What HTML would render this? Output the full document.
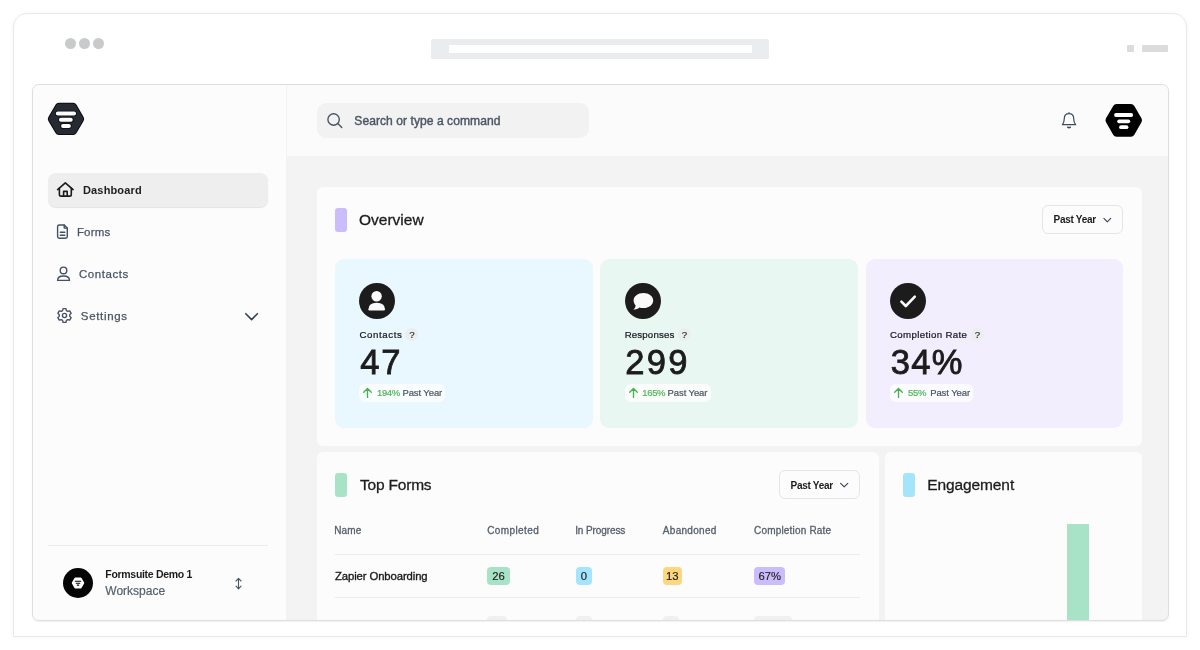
<!DOCTYPE html>
<html lang="en">
<head>
<meta charset="utf-8">
<title>Formsuite Dashboard</title>
<style>
*{box-sizing:border-box;margin:0;padding:0}
html,body{width:1200px;height:650px;overflow:hidden;background:#fff}
body{font-family:"Liberation Sans",sans-serif;color:#1f1f1f;position:relative}
.abs{position:absolute}
.t{position:absolute;white-space:nowrap;line-height:1}
/* browser chrome */
#outer{left:13px;top:13px;width:1174px;height:624px;border:1px solid #e9e9e9;border-radius:14px 14px 1px 1px;background:#fff;box-shadow:0 0 4px rgba(0,0,0,.04)}
.dot{width:11px;height:11px;border-radius:50%;background:#c9cacc;top:37.6px}
#url{left:431px;top:39px;width:338.3px;height:19.6px;background:#ebecee;border-radius:2px}
#urlin{left:449.4px;top:45.4px;width:302.8px;height:7.2px;background:#fff}
#inner{left:31.8px;top:84px;width:1137.5px;height:537px;border:1px solid #dedede;border-radius:7px;background:#f3f3f3;overflow:hidden;box-shadow:0 1px 2px rgba(0,0,0,.06)}
#inner>div{position:absolute}
/* coordinates inside #inner are page coords minus (32,85) */
#side{left:0;top:0;width:254.2px;height:535px;background:#fcfcfc;border-right:1px solid #f3f3f3}
#top{left:254.2px;top:0;width:883px;height:70.8px;background:#fbfbfb}
.card{background:#fcfcfc;border-radius:6px}

.h2{font-size:15.5px;color:#1c1c1c;-webkit-text-stroke:.3px #1c1c1c}
.dd{width:81.7px;height:29.1px;border:1px solid #e5e5e5;border-radius:6px;background:#fcfcfc}
.ddt{font-size:10px;font-weight:700;color:#1c1c1c;letter-spacing:-.3px}
.lbl{font-size:9.7px;color:#1a1a22;letter-spacing:.6px;-webkit-text-stroke:.22px #1a1a22}
.q{width:13px;height:13px;border-radius:50%;background:#ebeeef}
.qm{width:13px;text-align:center;font-size:9.6px;color:#2a2a2a;-webkit-text-stroke:.2px #2a2a2a}
.num{font-size:34.5px;color:#1c1c1c;-webkit-text-stroke:.85px #1c1c1c;letter-spacing:0}
.bdg{height:18.2px;border-radius:6px;background:rgba(255,255,255,.78)}
.pct{font-size:9.5px;color:#4b5563;letter-spacing:-.1px;-webkit-text-stroke:.2px #4b5563}
.pct.g{color:#52b659;-webkit-text-stroke:.22px #52b659;letter-spacing:-.35px}

.th{font-size:10px;color:#555e6b;letter-spacing:.4px;-webkit-text-stroke:.3px #555e6b}
.td{font-size:11.3px;-webkit-text-stroke:.35px #1c1c1c;color:#1c1c1c}
.pill{top:567px;height:17.7px;line-height:19.2px;border-radius:4px;text-align:center;font-size:11.3px;color:#1c1c1c;-webkit-text-stroke:.15px #1c1c1c;overflow:hidden}
.ghost{top:616px;height:17.6px;border-radius:4px;background:#f0f0f0}
</style>
</head>
<body>
<div id="outer" class="abs"></div>
<div class="abs dot" style="left:64.5px"></div>
<div class="abs dot" style="left:78.8px"></div>
<div class="abs dot" style="left:93.1px"></div>
<div id="url" class="abs"></div>
<div id="urlin" class="abs"></div>
<div class="abs" style="left:1127px;top:44.6px;width:7.2px;height:7px;background:#dcdcdc;border-radius:1px"></div>
<div class="abs" style="left:1142px;top:44.6px;width:26.2px;height:7px;background:#dcdcdc;border-radius:1px"></div>

<div id="inner" class="abs">
  <div id="side"></div>
  <div id="top"></div>
</div>

<!-- page-coordinate layer -->
<div id="layer" class="abs" style="left:0;top:0;width:1200px;height:620px;overflow:hidden">
<!--SIDEBAR-->
<!-- logo -->
<svg class="abs" style="left:46px;top:100px" width="40" height="38" viewBox="46 100 40 38">
  <polygon points="51.8,118.9 58.9,106.75 73.1,106.75 80.15,118.9 73.1,131 58.9,131" fill="#0b0c0f" stroke="#0b0c0f" stroke-width="8" stroke-linejoin="round"/>
  <polygon points="51.8,118.9 58.9,106.75 73.1,106.75 80.15,118.9 73.1,131 58.9,131" fill="#272a33" stroke="#272a33" stroke-width="6" stroke-linejoin="round"/>
  <g stroke="#0b0c0f" stroke-width="5.6" stroke-linecap="round"><line x1="57.8" y1="113.55" x2="74.1" y2="113.55"/><line x1="60.9" y1="119.7" x2="70.8" y2="119.7"/><line x1="63" y1="125.95" x2="68.9" y2="125.95"/></g>
  <g stroke="#fff" stroke-width="3.9" stroke-linecap="round"><line x1="57.8" y1="113.55" x2="74.1" y2="113.55"/><line x1="60.9" y1="119.7" x2="70.8" y2="119.7"/><line x1="63" y1="125.95" x2="68.9" y2="125.95"/></g>
</svg>
<!-- nav -->
<div class="abs" style="left:48px;top:173px;width:220px;height:34px;border-radius:8px;background:#eeeeee;box-shadow:0 1px 1px rgba(0,0,0,.10)"></div>
<svg class="abs" style="left:55px;top:180px" width="20" height="19" viewBox="55 180 20 19" fill="none" stroke="#1a1a1a" stroke-width="1.6" stroke-linecap="round" stroke-linejoin="round">
  <path d="M57.6 189.6 L65.35 182.9 L73.1 189.6"/>
  <path d="M59.4 188.4 V194.4 Q59.4 196.1 61.1 196.1 H69.6 Q71.3 196.1 71.3 194.4 V188.4"/>
  <path d="M63.6 196 V191.4 H67.2 V196"/>
</svg>
<span class="t" id="n1" style="left:83px;top:184.8px;font-size:11px;font-weight:700;color:#1c1c1c;letter-spacing:.15px">Dashboard</span>

<svg class="abs" style="left:55px;top:222px" width="16" height="19" viewBox="55 222 16 19" fill="none" stroke="#445063" stroke-width="1.4" stroke-linecap="round" stroke-linejoin="round">
  <path d="M64.2 225 H59.3 Q57.6 225 57.6 226.7 V236.6 Q57.6 238.3 59.3 238.3 H65.6 Q67.3 238.3 67.3 236.6 V228.1 Z"/>
  <path d="M64.2 225 V228.1 H67.3"/>
  <path d="M60.3 232.2 H64.8 M60.3 235.2 H64.8"/>
</svg>
<span class="t" id="n2" style="-webkit-text-stroke:.25px #4a5565;left:76.9px;top:226.5px;font-size:11.5px;color:#4a5565;letter-spacing:.2px">Forms</span>

<svg class="abs" style="left:55px;top:264px" width="18" height="19" viewBox="55 264 18 19" fill="none" stroke="#445063" stroke-width="1.4" stroke-linecap="round" stroke-linejoin="round">
  <circle cx="63.5" cy="270.4" r="3.3"/>
  <path d="M57.6 280.4 Q57.6 276 63.5 276 Q69.5 276 69.5 280.4 Z"/>
</svg>
<span class="t" id="n3" style="-webkit-text-stroke:.25px #4a5565;left:79px;top:268.8px;font-size:11.5px;color:#4a5565;letter-spacing:.55px">Contacts</span>

<svg class="abs" style="left:55px;top:306px" width="19" height="19" viewBox="-9.5 -9.5 19 19" fill="none" stroke="#445063" stroke-width="1.35" stroke-linejoin="round">
  <circle cx="0" cy="0" r="2.1"/>
  <path d="M-1.46 -6.85 L1.46 -6.85 L1.90 -4.95 L3.34 -4.12 L5.20 -4.68 L6.66 -2.16 L5.23 -0.83 L5.23 0.83 L6.66 2.16 L5.20 4.68 L3.34 4.12 L1.90 4.95 L1.46 6.85 L-1.46 6.85 L-1.90 4.95 L-3.34 4.12 L-5.20 4.68 L-6.66 2.16 L-5.23 0.83 L-5.23 -0.83 L-6.66 -2.16 L-5.20 -4.68 L-3.34 -4.12 L-1.90 -4.95 Z"/>
</svg>
<span class="t" id="n4" style="-webkit-text-stroke:.25px #4a5565;left:80.8px;top:310.8px;font-size:11.5px;color:#4a5565;letter-spacing:.68px">Settings</span>
<svg class="abs" style="left:243px;top:310px" width="17" height="13" viewBox="243 310 17 13" fill="none" stroke="#374151" stroke-width="1.6" stroke-linecap="round" stroke-linejoin="round"><path d="M245.8 313.7 L251.6 319.6 L257.4 313.7"/></svg>

<!-- workspace footer -->
<div class="abs" style="left:48px;top:545px;width:220px;height:1px;background:#ececec"></div>
<div class="abs" style="left:63px;top:568px;width:30px;height:30px;border-radius:50%;background:#050505"></div>
<svg class="abs" style="left:70px;top:575px" width="16" height="16" viewBox="70 575 16 16">
  <polygon points="72.6,583 75.2,578.3 80.8,578.3 83.4,583 80.8,587.7 75.2,587.7" fill="#fff" stroke="#fff" stroke-width="1.6" stroke-linejoin="round"/>
  <g stroke="#050505" stroke-width="1.1" stroke-linecap="round"><line x1="75.3" y1="581.2" x2="80.7" y2="581.2"/><line x1="76.3" y1="583.2" x2="79.7" y2="583.2"/><line x1="77.3" y1="585.1" x2="78.7" y2="585.1"/></g>
</svg>
<span class="t" id="w1" style="left:105.3px;top:568.9px;font-size:10.5px;font-weight:700;color:#1c1c1c;letter-spacing:-.3px">Formsuite Demo 1</span>
<span class="t" id="w2" style="-webkit-text-stroke:.2px #566070;left:105.3px;top:585.1px;font-size:12px;color:#566070">Workspace</span>
<svg class="abs" style="left:232px;top:575px" width="13" height="17" viewBox="232 575 13 17" fill="none" stroke="#4b5563" stroke-width="1.1" stroke-linecap="round" stroke-linejoin="round"><path d="M238.5 578.6 V588.6 M236 581 L238.5 578.4 L241 581 M236 586.2 L238.5 588.8 L241 586.2"/></svg>

<!--TOPBAR-->
<div class="abs" style="left:317px;top:102.5px;width:272px;height:35.5px;border-radius:9px;background:#f2f2f2"></div>
<svg class="abs" style="left:325px;top:111px" width="20" height="19" viewBox="325 111 20 19" fill="none" stroke="#4b5563" stroke-width="1.4" stroke-linecap="round"><circle cx="333.6" cy="119.5" r="5.7"/><path d="M337.8 123.6 L341.8 127.6"/></svg>
<span class="t" id="s1" style="left:354.3px;top:115px;font-size:12.1px;color:#4b5563;-webkit-text-stroke:.4px #4b5563;letter-spacing:.04px">Search or type a command</span>
<svg class="abs" style="left:1060px;top:110px" width="18" height="20" viewBox="1060 110 18 20" fill="none" stroke="#3d4a5c" stroke-width="1.2" stroke-linecap="round" stroke-linejoin="round">
  <path d="M1069 112.5 V113.6 M1064.3 118.6 Q1064.3 113.7 1069 113.7 Q1073.7 113.7 1073.7 118.6 Q1073.7 122.4 1075.6 124.7 H1062.4 Q1064.3 122.4 1064.3 118.6 Z"/>
  <path d="M1067.7 127.2 Q1069 128.2 1070.3 127.2" stroke-width="1.5"/>
</svg>
<svg class="abs" style="left:1103px;top:101px" width="42" height="39" viewBox="1103 101 42 39">
  <polygon points="1109.5,120.3 1116.65,107.9 1130.85,107.9 1138,120.3 1130.85,132.7 1116.65,132.7" fill="#000" stroke="#000" stroke-width="8" stroke-linejoin="round"/>
  <g stroke="#fff" stroke-width="3.8" stroke-linecap="round"><line x1="1116" y1="115" x2="1131.2" y2="115"/><line x1="1119.1" y1="121.3" x2="1128.3" y2="121.3"/><line x1="1121" y1="127.2" x2="1126.5" y2="127.2"/></g>
</svg>

<!--OVERVIEW-->
<div class="abs card" style="left:316.6px;top:186.8px;width:825.2px;height:259.4px"></div>
<div class="abs" style="left:335px;top:208px;width:12px;height:24px;border-radius:3px;background:#cbbdfb"></div>
<span class="t h2" id="h_ov" style="left:359px;top:212.4px">Overview</span>
<div class="abs dd" style="left:1041.7px;top:205.2px"></div>
<span class="t ddt" style="left:1053.6px;top:215.4px">Past Year</span>
<svg class="abs" style="left:1101px;top:215px" width="12" height="10" viewBox="1101 215 12 10" fill="none" stroke="#374151" stroke-width="1.1" stroke-linecap="round" stroke-linejoin="round"><path d="M1103.9 218.4 L1107.3 221.8 L1110.7 218.4"/></svg>

<div class="abs" style="left:335px;top:259px;width:257.8px;height:168.8px;border-radius:9px;background:#e9f7fe"></div>
<div class="abs" style="left:359.3px;top:282.8px;width:35.8px;height:35.8px;border-radius:50%;background:#1c1c1c"></div>
<svg class="abs" style="left:359.3px;top:282.8px" width="36" height="36" viewBox="0 0 36 36" fill="#fafafa"><circle cx="17.6" cy="13.2" r="5.2"/><path d="M9.4 26.2 Q9.4 19.7 17.7 19.7 Q26 19.7 26 26.2 Q26 27.4 24.8 27.4 H10.6 Q9.4 27.4 9.4 26.2 Z"/></svg>
<span class="t lbl" style="top:330.1px;left:359.5px">Contacts</span>
<div class="abs q" style="left:405.2px;top:328.3px"></div><span class="t qm" style="left:405.3px;top:330.1px">?</span>
<span class="t num" style="left:360.3px;top:345.2px;letter-spacing:1.8px">47</span>
<div class="abs bdg" style="left:359.2px;top:383.8px;width:85.9px"></div>
<svg class="abs" style="left:361.3px;top:385.6px" width="13" height="14" viewBox="0 0 13 14" fill="none" stroke="#45b24e" stroke-width="1.35" stroke-linecap="round" stroke-linejoin="round"><path d="M6.5 11.4 V2.6 M2.7 6.2 L6.5 2.4 L10.3 6.2"/></svg>
<span class="t pct g" id="g1" style="left:377px;top:388.4px">194%</span><span class="t pct" id="y1" style="left:402.4px;top:388.4px">Past Year</span>

<div class="abs" style="left:600.3px;top:259px;width:257.8px;height:168.8px;border-radius:9px;background:#e9f7f2"></div>
<div class="abs" style="left:624.8px;top:282.8px;width:35.8px;height:35.8px;border-radius:50%;background:#1c1c1c"></div>
<svg class="abs" style="left:624.6px;top:282.8px" width="36" height="36" viewBox="0 0 36 36" fill="#fafafa"><path d="M18.4 9.9 C23.9 9.9 28.2 13.2 28.2 17.5 C28.2 21.8 23.9 25.1 18.4 25.1 C17 25.1 15.6 24.85 14.4 24.4 C13 25.7 10.8 26.5 8.3 26.5 C9.8 25.3 10.5 24 10.6 22.4 C9.3 21 8.6 19.3 8.6 17.5 C8.6 13.2 12.9 9.9 18.4 9.9 Z"/></svg>
<span class="t lbl" style="top:330.1px;left:624.7px;letter-spacing:.14px">Responses</span>
<div class="abs q" style="left:677.8px;top:328.3px"></div><span class="t qm" style="left:677.9px;top:330.1px">?</span>
<span class="t num" style="left:625.2px;top:345.2px;letter-spacing:2.4px">299</span>
<div class="abs bdg" style="left:624.5px;top:383.8px;width:86.2px"></div>
<svg class="abs" style="left:627.1px;top:385.6px" width="13" height="14" viewBox="0 0 13 14" fill="none" stroke="#45b24e" stroke-width="1.35" stroke-linecap="round" stroke-linejoin="round"><path d="M6.5 11.4 V2.6 M2.7 6.2 L6.5 2.4 L10.3 6.2"/></svg>
<span class="t pct g" id="g2" style="left:642.3px;top:388.4px">165%</span><span class="t pct" id="y2" style="left:667.6px;top:388.4px">Past Year</span>

<div class="abs" style="left:865.5px;top:259px;width:257.8px;height:168.8px;border-radius:9px;background:#f2eefe"></div>
<div class="abs" style="left:890.0px;top:282.8px;width:35.8px;height:35.8px;border-radius:50%;background:#1c1c1c"></div>
<svg class="abs" style="left:889.9px;top:282.8px" width="36" height="36" viewBox="0 0 36 36" fill="none" stroke="#fafafa" stroke-width="2.6" stroke-linecap="round" stroke-linejoin="round"><path d="M11.4 18.6 L15.8 23 L24.8 13.6"/></svg>
<span class="t lbl" style="top:330.1px;left:890.0px;letter-spacing:.34px">Completion Rate</span>
<div class="abs q" style="left:970.6px;top:328.3px"></div><span class="t qm" style="left:970.8px;top:330.1px">?</span>
<span class="t num" style="left:890.8px;top:345.2px;letter-spacing:1.3px">34%</span>
<div class="abs bdg" style="left:889.7px;top:383.8px;width:83px"></div>
<svg class="abs" style="left:892.2px;top:385.6px" width="13" height="14" viewBox="0 0 13 14" fill="none" stroke="#45b24e" stroke-width="1.35" stroke-linecap="round" stroke-linejoin="round"><path d="M6.5 11.4 V2.6 M2.7 6.2 L6.5 2.4 L10.3 6.2"/></svg>
<span class="t pct g" id="g3" style="left:908.1px;top:388.4px">55%</span><span class="t pct" id="y3" style="left:930.2px;top:388.4px">Past Year</span>

<!--TOPFORMS-->
<div class="abs card" style="left:316.8px;top:452.3px;width:561.9px;height:200px"></div>
<div class="abs" style="left:335px;top:473.2px;width:12px;height:23.8px;border-radius:3px;background:#a8e3c8"></div>
<span class="t h2" id="h_tf" style="left:360px;top:476.6px;letter-spacing:-.2px">Top Forms</span>
<div class="abs dd" style="left:778.6px;top:470.2px"></div>
<span class="t ddt" style="left:790.6px;top:480.7px">Past Year</span>
<svg class="abs" style="left:838px;top:480px" width="12" height="10" viewBox="0 0 12 10" fill="none" stroke="#374151" stroke-width="1.1" stroke-linecap="round" stroke-linejoin="round"><path d="M2.6 3.4 L6.2 6.9 L9.8 3.4"/></svg>
<span class="t th" id="th1" style="left:334.3px;top:525.9px;letter-spacing:.1px">Name</span>
<span class="t th" id="th2" style="left:487.2px;top:525.9px">Completed</span>
<span class="t th" id="th3" style="left:575.2px;top:525.9px;letter-spacing:-.1px">In Progress</span>
<span class="t th" id="th4" style="left:662.8px;top:525.9px;letter-spacing:.3px">Abandoned</span>
<span class="t th" id="th5" style="left:754px;top:525.9px;letter-spacing:.19px">Completion Rate</span>
<div class="abs" style="left:335px;top:554px;width:525.2px;height:1px;background:#ececec"></div>
<span class="t td" id="td1" style="left:335px;top:570.8px;letter-spacing:-.1px">Zapier Onboarding</span>
<span class="t pill" id="p1" style="left:487.2px;width:22.5px;background:#a8e3c8">26</span>
<span class="t pill" id="p2" style="left:575.5px;width:16.7px;background:#a5e5fb">0</span>
<span class="t pill" id="p3" style="left:662.6px;width:19.4px;background:#fcd77f">13</span>
<span class="t pill" id="p4" style="left:754px;width:31.4px;background:#cbbdfb">67%</span>
<div class="abs" style="left:335px;top:597px;width:525.2px;height:1px;background:#ececec"></div>
<div class="abs ghost" style="left:487.2px;width:19.5px"></div>
<div class="abs ghost" style="left:575.5px;width:16.7px"></div>
<div class="abs ghost" style="left:662.6px;width:16.5px"></div>
<div class="abs ghost" style="left:754px;width:37.5px"></div>

<!--ENGAGE-->
<div class="abs card" style="left:884.7px;top:452.3px;width:257.1px;height:200px"></div>
<div class="abs" style="left:903.2px;top:473.2px;width:12px;height:23.8px;border-radius:3px;background:#a5e5fb"></div>
<span class="t h2" id="h_en" style="left:927.2px;top:476.6px;letter-spacing:-.1px">Engagement</span>
<div class="abs" style="left:1066.5px;top:524.4px;width:22.6px;height:120px;background:#a8e3c8"></div>

</div>
</body>
</html>
